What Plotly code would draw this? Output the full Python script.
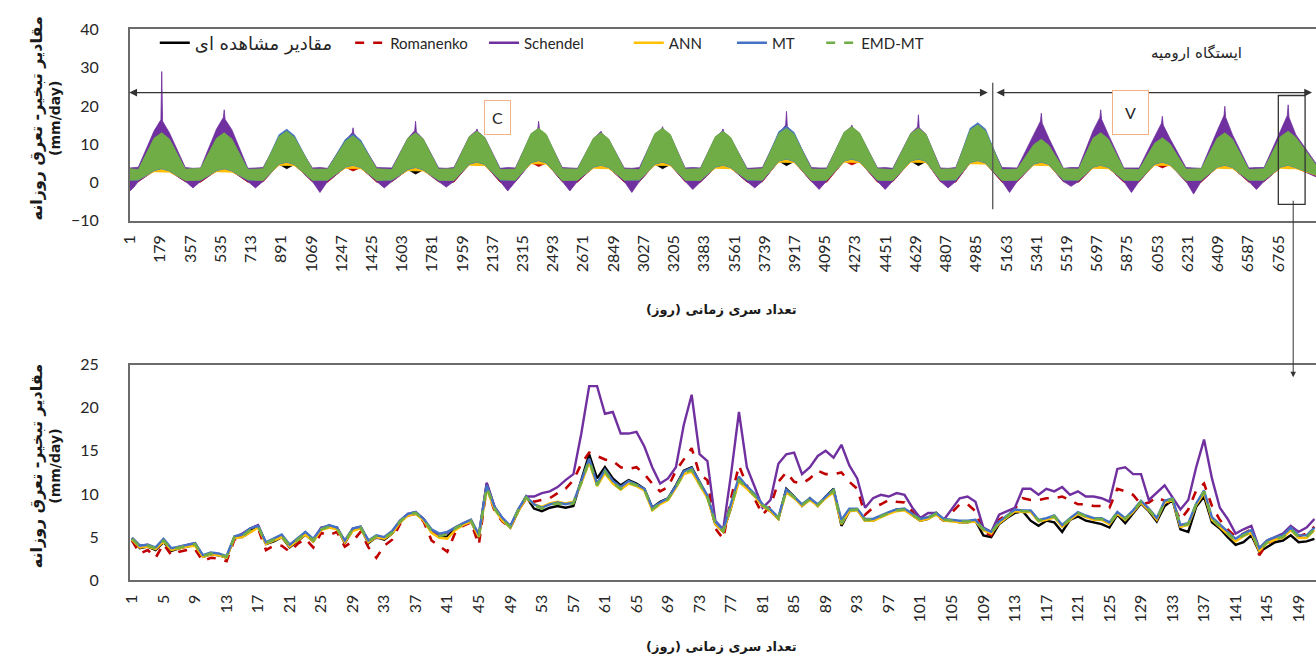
import plotly.graph_objects as go

W, H = 1316, 664

# ---------------- DATA ----------------
SERIES_NAMES = ["مقادیر مشاهده ای", "Romanenko", "Schendel", "ANN", "MT", "EMD-MT"]
SERIES_COLORS = ["#000000", "#C00000", "#7030A0", "#FFC000", "#4472C4", "#70AD47"]
SERIES_DASH = ["solid", "dash", "solid", "solid", "solid", "dash"]

# Top panel: whole record (days). The dense daily series are drawn as the band each one
# fills, read as upper / lower envelope at winter start/end, pre-peak, peak, post-peak.
TOP_DAYS = [
    1, 50, 143, 188, 233,
    327, 417, 511, 556, 601,
    695, 785, 879, 924, 969,
    1075, 1165, 1270, 1315, 1360,
    1454, 1544, 1638, 1683, 1728,
    1819, 1909, 2000, 2045, 2090,
    2181, 2271, 2363, 2408, 2453,
    2547, 2637, 2731, 2776, 2821,
    2912, 3002, 3093, 3138, 3183,
    3271, 3361, 3449, 3494, 3539,
    3636, 3726, 3823, 3868, 3913,
    4015, 4105, 4208, 4253, 4298,
    4404, 4494, 4600, 4645, 4690,
    4775, 4865, 4950, 4995, 5040,
    5137, 5227, 5324, 5369, 5414,
    5499, 5589, 5674, 5719, 5764,
    5855, 5945, 6037, 6082, 6127,
    6221, 6311, 6405, 6450, 6495,
    6591, 6681, 6778, 6823, 6868,
    6987]

# Schendel has short spikes and winter dips, so it is read at more points
SCH_DAYS = [
    1, 25, 50, 143, 183, 188, 193, 233,
    327, 372, 417, 511, 551, 556, 561, 601,
    695, 740, 785, 879, 919, 924, 929, 969,
    1075, 1120, 1165, 1270, 1310, 1315, 1320, 1360,
    1454, 1499, 1544, 1638, 1678, 1683, 1688, 1728,
    1819, 1864, 1909, 2000, 2040, 2045, 2050, 2090,
    2181, 2226, 2271, 2363, 2403, 2408, 2413, 2453,
    2547, 2592, 2637, 2731, 2771, 2776, 2781, 2821,
    2912, 2957, 3002, 3093, 3133, 3138, 3143, 3183,
    3271, 3316, 3361, 3449, 3489, 3494, 3499, 3539,
    3636, 3681, 3726, 3823, 3863, 3868, 3873, 3913,
    4015, 4060, 4105, 4208, 4248, 4253, 4258, 4298,
    4404, 4449, 4494, 4600, 4640, 4645, 4650, 4690,
    4775, 4820, 4865, 4950, 4990, 4995, 5000, 5040,
    5137, 5182, 5227, 5324, 5364, 5369, 5374, 5414,
    5499, 5544, 5589, 5674, 5714, 5719, 5724, 5764,
    5855, 5900, 5945, 6037, 6077, 6082, 6087, 6127,
    6221, 6266, 6311, 6405, 6445, 6450, 6455, 6495,
    6591, 6636, 6681, 6778, 6818, 6823, 6828, 6868,
    6987]

OBS_UP = [
    3.3, 3.2, 11.0, 12.4, 10.8, 3.2, 3.3, 11.0, 12.4, 10.8, 3.3, 3.2, 11.4, 12.8, 11.2,
    3.2, 3.3, 10.2, 11.6, 10.0, 3.3, 3.2, 11.0, 12.4, 10.8, 3.2, 3.3, 11.4, 12.8, 11.2,
    3.3, 3.2, 12.2, 13.6, 12.0, 3.2, 3.3, 11.0, 12.4, 10.8, 3.3, 3.2, 12.2, 13.6, 12.0,
    3.2, 3.3, 11.4, 12.8, 11.2, 3.3, 3.2, 12.2, 13.6, 12.0, 3.2, 3.3, 12.6, 14.0, 12.4,
    3.3, 3.2, 12.2, 13.6, 12.0, 3.2, 3.3, 13.1, 14.5, 12.9, 3.3, 3.2, 9.3, 10.7, 9.1,
    3.2, 3.3, 11.0, 12.4, 10.8, 3.3, 3.2, 9.7, 11.1, 9.5, 3.2, 3.3, 11.0, 12.4, 10.8,
    3.3, 3.2, 11.4, 12.8, 11.2, 4.4]
OBS_LO = [
    0.4, 0.5, 3.1, 2.9, 3.0, 0.5, 0.4, 3.1, 2.9, 3.0, 0.4, 0.5, 4.8, 3.6, 4.7,
    0.5, 0.4, 4.0, 3.8, 3.9, 0.4, 0.5, 3.4, 2.2, 3.3, 0.5, 0.4, 4.8, 4.6, 4.7,
    0.4, 0.5, 5.2, 5.0, 5.1, 0.5, 0.4, 4.0, 3.8, 3.9, 0.4, 0.5, 4.8, 3.6, 4.7,
    0.5, 0.4, 4.0, 3.8, 3.9, 0.4, 0.5, 5.6, 4.4, 5.5, 0.5, 0.4, 5.6, 5.4, 5.5,
    0.4, 0.5, 5.6, 4.4, 5.5, 0.5, 0.4, 5.2, 5.0, 5.1, 0.4, 0.5, 4.8, 4.6, 4.7,
    0.5, 0.4, 4.0, 3.8, 3.9, 0.4, 0.5, 4.8, 4.6, 4.7, 0.5, 0.4, 4.0, 3.8, 3.9,
    0.4, 0.5, 4.0, 3.8, 3.9, 1.8]

ROM_UP = [
    2.9, 2.8, 10.7, 12.1, 10.5, 2.8, 2.9, 10.7, 12.1, 10.5, 2.9, 2.8, 11.1, 12.5, 10.9,
    2.8, 2.9, 9.9, 11.3, 9.7, 2.9, 2.8, 10.7, 12.1, 10.5, 2.8, 2.9, 11.1, 12.5, 10.9,
    2.9, 2.8, 11.9, 13.3, 11.7, 2.8, 2.9, 10.7, 12.1, 10.5, 2.9, 2.8, 11.9, 13.3, 11.7,
    2.8, 2.9, 11.1, 12.5, 10.9, 2.9, 2.8, 11.9, 13.3, 11.7, 2.8, 2.9, 12.3, 13.7, 12.1,
    2.9, 2.8, 11.9, 13.3, 11.7, 2.8, 2.9, 12.8, 14.2, 12.6, 2.9, 2.8, 9.0, 10.4, 8.8,
    2.8, 2.9, 10.7, 12.1, 10.5, 2.9, 2.8, 9.4, 10.8, 9.2, 2.8, 2.9, 10.7, 12.1, 10.5,
    2.9, 2.8, 11.1, 12.5, 10.9, 4.0]
ROM_LO = [
    0.1, 0.2, 3.1, 3.0, 3.0, 0.2, 0.1, 3.1, 3.0, 3.0, 0.1, 0.2, 4.8, 4.7, 4.7,
    0.2, 0.1, 4.0, 3.0, 3.9, 0.1, 0.2, 3.4, 3.3, 3.3, 0.2, 0.1, 4.8, 4.7, 4.7,
    0.1, 0.2, 5.2, 4.2, 5.1, 0.2, 0.1, 4.0, 3.9, 3.9, 0.1, 0.2, 4.8, 4.7, 4.7,
    0.2, 0.1, 4.0, 3.9, 3.9, 0.1, 0.2, 5.6, 5.5, 5.5, 0.2, 0.1, 5.6, 4.6, 5.5,
    0.1, 0.2, 5.6, 5.5, 5.5, 0.2, 0.1, 5.2, 5.1, 5.1, 0.1, 0.2, 4.8, 4.7, 4.7,
    0.2, 0.1, 4.0, 3.9, 3.9, 0.1, 0.2, 4.8, 3.8, 4.7, 0.2, 0.1, 4.0, 3.9, 3.9,
    0.1, 0.2, 4.0, 3.9, 3.9, 1.6]

SCH_UP = [
    3.8, 3.9, 4.0, 13.5, 16.4, 29.0, 16.0, 13.0,
    3.9, 3.7, 3.8, 14.0, 17.0, 19.0, 16.5, 13.8,
    3.7, 3.8, 3.9, 11.6, 13.4, 13.8, 13.2, 11.4,
    3.8, 3.9, 3.7, 11.0, 13.0, 14.3, 12.8, 10.8,
    3.9, 3.8, 3.8, 11.6, 13.5, 16.0, 13.2, 11.4,
    3.8, 3.7, 3.9, 12.0, 13.5, 14.0, 13.3, 11.8,
    3.7, 3.9, 3.8, 12.5, 14.0, 16.0, 13.8, 12.3,
    3.9, 3.8, 3.7, 11.4, 13.0, 13.4, 12.8, 11.2,
    3.8, 3.7, 3.9, 12.6, 14.0, 14.6, 13.8, 12.4,
    3.8, 3.9, 3.8, 11.8, 13.4, 14.0, 13.2, 11.6,
    3.7, 3.8, 3.9, 12.8, 15.0, 18.6, 14.6, 12.6,
    3.9, 3.8, 3.8, 13.0, 14.5, 15.0, 14.3, 12.8,
    3.8, 3.9, 3.7, 12.8, 14.5, 17.7, 14.3, 12.6,
    3.8, 3.7, 3.9, 13.5, 14.8, 15.2, 14.6, 13.3,
    3.9, 3.8, 3.8, 12.5, 16.0, 18.1, 15.5, 11.5,
    3.7, 3.9, 3.9, 13.5, 17.0, 19.0, 16.5, 12.5,
    3.8, 3.8, 3.8, 12.0, 15.5, 17.3, 15.0, 11.5,
    3.9, 3.8, 3.7, 13.5, 17.5, 19.9, 17.0, 12.5,
    3.8, 3.9, 3.9, 13.5, 17.5, 20.3, 17.0, 12.5,
    5.0]
SCH_LO = [
    -2.2, -1.2, 0.3, 3.0, 3.3, 3.4, 3.3, 2.9,
    0.3, -1.4, 0.3, 3.0, 3.3, 3.4, 3.3, 2.9,
    0.3, -1.4, 0.3, 4.7, 5.0, 5.1, 5.0, 4.6,
    0.3, -2.6, 0.3, 3.9, 4.2, 4.3, 4.2, 3.8,
    0.3, -1.4, 0.3, 3.3, 3.6, 3.7, 3.6, 3.2,
    0.3, -1.2, 0.3, 4.7, 5.0, 5.1, 5.0, 4.6,
    0.3, -2.2, 0.3, 5.1, 5.4, 5.5, 5.4, 5.0,
    0.3, -2.2, 0.3, 3.9, 4.2, 4.3, 4.2, 3.8,
    0.3, -2.6, 0.3, 4.7, 5.0, 5.1, 5.0, 4.6,
    0.3, -1.8, 0.3, 3.9, 4.2, 4.3, 4.2, 3.8,
    0.3, -1.4, 0.3, 5.5, 5.8, 5.9, 5.8, 5.4,
    0.3, -1.8, 0.3, 5.5, 5.8, 5.9, 5.8, 5.4,
    0.3, -1.8, 0.3, 5.5, 5.8, 5.9, 5.8, 5.4,
    0.3, -1.4, 0.3, 5.1, 5.4, 5.5, 5.4, 5.0,
    0.3, -2.6, 0.3, 4.7, 5.0, 5.1, 5.0, 4.6,
    0.3, -1.0, 0.3, 3.9, 4.2, 4.3, 4.2, 3.8,
    0.3, -2.6, 0.3, 4.7, 5.0, 5.1, 5.0, 4.6,
    0.3, -3.0, 0.3, 3.9, 4.2, 4.3, 4.2, 3.8,
    0.3, -1.8, 0.3, 3.9, 4.2, 4.3, 4.2, 3.8,
    1.5]

ANN_UP = [
    3.2, 3.1, 10.6, 12.0, 10.4, 3.1, 3.2, 10.6, 12.0, 10.4, 3.2, 3.1, 11.0, 12.4, 10.8,
    3.1, 3.2, 9.8, 11.2, 9.6, 3.2, 3.1, 10.6, 12.0, 10.4, 3.1, 3.2, 11.0, 12.4, 10.8,
    3.2, 3.1, 11.8, 13.2, 11.6, 3.1, 3.2, 10.6, 12.0, 10.4, 3.2, 3.1, 11.8, 13.2, 11.6,
    3.1, 3.2, 11.0, 12.4, 10.8, 3.2, 3.1, 11.8, 13.2, 11.6, 3.1, 3.2, 12.2, 13.6, 12.0,
    3.2, 3.1, 11.8, 13.2, 11.6, 3.1, 3.2, 12.7, 14.1, 12.5, 3.2, 3.1, 8.9, 10.3, 8.7,
    3.1, 3.2, 10.6, 12.0, 10.4, 3.2, 3.1, 9.3, 10.7, 9.1, 3.1, 3.2, 10.6, 12.0, 10.4,
    3.2, 3.1, 11.0, 12.4, 10.8, 4.2]
ANN_LO = [
    0.8, 0.7, 2.8, 2.7, 2.7, 0.7, 0.8, 2.8, 2.7, 2.7, 0.8, 0.7, 4.5, 4.4, 4.4,
    0.7, 0.8, 3.7, 3.6, 3.6, 0.8, 0.7, 3.1, 3.0, 3.0, 0.7, 0.8, 4.5, 4.4, 4.4,
    0.8, 0.7, 4.9, 4.8, 4.8, 0.7, 0.8, 3.7, 3.6, 3.6, 0.8, 0.7, 4.5, 4.4, 4.4,
    0.7, 0.8, 3.7, 3.6, 3.6, 0.8, 0.7, 5.3, 5.2, 5.2, 0.7, 0.8, 5.3, 5.2, 5.2,
    0.8, 0.7, 5.3, 5.2, 5.2, 0.7, 0.8, 4.9, 4.8, 4.8, 0.8, 0.7, 4.5, 4.4, 4.4,
    0.7, 0.8, 3.7, 3.6, 3.6, 0.8, 0.7, 4.5, 4.4, 4.4, 0.7, 0.8, 3.7, 3.6, 3.6,
    0.8, 0.7, 3.7, 3.6, 3.6, 1.9]

MT_UP = [
    3.4, 3.3, 11.3, 12.7, 11.1, 3.3, 3.4, 11.3, 12.7, 11.1, 3.4, 3.3, 12.5, 13.9, 12.3,
    3.3, 3.4, 11.3, 12.7, 11.1, 3.4, 3.3, 11.3, 12.7, 11.1, 3.3, 3.4, 11.7, 13.1, 11.5,
    3.4, 3.3, 12.5, 13.9, 12.3, 3.3, 3.4, 11.3, 12.7, 11.1, 3.4, 3.3, 12.5, 13.9, 12.3,
    3.3, 3.4, 11.7, 13.1, 11.5, 3.4, 3.3, 13.3, 14.7, 13.1, 3.3, 3.4, 12.9, 14.3, 12.7,
    3.4, 3.3, 12.5, 13.9, 12.3, 3.3, 3.4, 14.2, 15.6, 14.0, 3.4, 3.3, 9.6, 11.0, 9.4,
    3.3, 3.4, 11.3, 12.7, 11.1, 3.4, 3.3, 10.0, 11.4, 9.8, 3.3, 3.4, 11.3, 12.7, 11.1,
    3.4, 3.3, 11.7, 13.1, 11.5, 4.4]
MT_LO = [
    0.6, 0.6, 3.1, 3.6, 3.0, 0.6, 0.6, 3.1, 3.6, 3.0, 0.6, 0.6, 4.8, 5.3, 4.7,
    0.6, 0.6, 4.0, 4.5, 3.9, 0.6, 0.6, 3.4, 3.9, 3.3, 0.6, 0.6, 4.8, 5.3, 4.7,
    0.6, 0.6, 5.2, 5.7, 5.1, 0.6, 0.6, 4.0, 4.5, 3.9, 0.6, 0.6, 4.8, 5.3, 4.7,
    0.6, 0.6, 4.0, 4.5, 3.9, 0.6, 0.6, 5.6, 6.1, 5.5, 0.6, 0.6, 5.6, 6.1, 5.5,
    0.6, 0.6, 5.6, 6.1, 5.5, 0.6, 0.6, 5.2, 5.7, 5.1, 0.6, 0.6, 4.8, 5.3, 4.7,
    0.6, 0.6, 4.0, 4.5, 3.9, 0.6, 0.6, 4.8, 5.3, 4.7, 0.6, 0.6, 4.0, 4.5, 3.9,
    0.6, 0.6, 4.0, 4.5, 3.9, 2.1]

EMD_UP = [
    3.6, 3.4, 11.6, 13.0, 11.4, 3.5, 3.7, 11.6, 13.0, 11.4, 3.4, 3.6, 12.0, 13.4, 11.8,
    3.5, 3.5, 10.8, 12.2, 10.6, 3.6, 3.4, 11.6, 13.0, 11.4, 3.5, 3.6, 12.0, 13.4, 11.8,
    3.4, 3.5, 12.8, 14.2, 12.6, 3.6, 3.5, 11.6, 13.0, 11.4, 3.5, 3.4, 12.8, 14.2, 12.6,
    3.5, 3.6, 12.0, 13.4, 11.8, 3.4, 3.6, 12.8, 14.2, 12.6, 3.5, 3.5, 13.2, 14.6, 13.0,
    3.6, 3.4, 12.8, 14.2, 12.6, 3.5, 3.6, 13.7, 15.1, 13.5, 3.4, 3.5, 9.9, 11.3, 9.7,
    3.6, 3.5, 11.6, 13.0, 11.4, 3.5, 3.4, 10.3, 11.7, 10.1, 3.5, 3.6, 11.6, 13.0, 11.4,
    3.4, 3.6, 12.0, 13.4, 11.8, 4.6]
EMD_LO = [
    0.6, 0.7, 3.2, 3.7, 3.1, 0.5, 0.6, 3.2, 3.7, 3.1, 0.7, 0.5, 4.9, 5.4, 4.8,
    0.6, 0.6, 4.1, 4.6, 4.0, 0.5, 0.7, 3.5, 4.0, 3.4, 0.6, 0.5, 4.9, 5.4, 4.8,
    0.7, 0.6, 5.3, 5.8, 5.2, 0.5, 0.6, 4.1, 4.6, 4.0, 0.6, 0.7, 4.9, 5.4, 4.8,
    0.6, 0.5, 4.1, 4.6, 4.0, 0.7, 0.6, 5.7, 6.2, 5.6, 0.5, 0.6, 5.7, 6.2, 5.6,
    0.6, 0.5, 5.7, 6.2, 5.6, 0.6, 0.7, 5.3, 5.8, 5.2, 0.5, 0.6, 4.9, 5.4, 4.8,
    0.7, 0.6, 4.1, 4.6, 4.0, 0.6, 0.5, 4.9, 5.4, 4.8, 0.5, 0.6, 4.1, 4.6, 4.0,
    0.6, 0.6, 4.1, 4.6, 4.0, 2.0]

TOP_TICKS = [1, 179, 357, 535, 713, 891, 1069, 1247, 1425, 1603, 1781, 1959, 2137,
             2315, 2493, 2671, 2849, 3027, 3205, 3383, 3561, 3739, 3917, 4095, 4273,
             4451, 4629, 4807, 4985, 5163, 5341, 5519, 5697, 5875, 6053, 6231, 6409,
             6587, 6765]
TOP_YTICKS = [-10, 0, 10, 20, 30, 40]

# Bottom panel: last 151 days (zoom of the boxed part)
BOT_DAYS = list(range(1, 152))
BOT_TICKS = [1, 5, 9, 13, 17, 21, 25, 29, 33, 37, 41, 45, 49, 53, 57, 61, 65, 69, 73,
             77, 81, 85, 89, 93, 97, 101, 105, 109, 113, 117, 121, 125, 129, 133, 137,
             141, 145, 149]
BOT_YTICKS = [0, 5, 10, 15, 20, 25]

OBS = [4.8, 3.7, 3.9, 3.5, 4.4, 3.4, 3.7, 3.9, 4.1, 2.7, 3.0, 2.9, 2.6,
       5.0, 5.0, 5.8, 6.3, 4.2, 4.5, 5.0, 3.8, 4.5, 5.3, 4.5, 5.9, 6.2,
       6.1, 4.3, 5.8, 6.1, 4.3, 5.0, 4.7, 5.4, 6.7, 7.6, 7.8, 7.1, 5.6,
       5.0, 5.1, 5.9, 6.5, 6.9, 4.9, 11.2, 8.4, 7.1, 6.1, 8.0, 9.7, 8.3,
       8.0, 8.4, 8.6, 8.4, 8.6, 11.6, 14.6, 11.8, 13.1, 11.8, 11.0, 11.6, 11.2,
       10.6, 8.4, 9.1, 9.5, 11.0, 12.7, 13.1, 11.4, 9.7, 6.5, 5.6, 8.4, 11.8,
       10.8, 9.9, 8.6, 8.0, 7.1, 10.6, 9.7, 8.6, 9.5, 8.6, 9.7, 10.6, 6.3,
       8.0, 8.2, 6.9, 6.9, 7.4, 7.8, 8.2, 8.2, 7.6, 6.9, 7.1, 7.8, 6.9,
       6.9, 6.7, 6.7, 6.9, 5.2, 5.0, 6.5, 7.2, 7.8, 8.0, 6.9, 6.3, 6.9,
       6.7, 5.6, 7.0, 7.4, 6.9, 6.7, 6.5, 6.1, 7.6, 6.6, 7.8, 8.9, 8.0,
       6.8, 8.6, 9.3, 5.9, 5.6, 8.5, 9.7, 6.7, 6.0, 5.0, 4.1, 4.4, 5.2,
       3.3, 3.9, 4.4, 4.6, 5.2, 4.4, 4.5, 4.8]
ROM = [4.6, 3.1, 3.5, 2.6, 4.2, 2.9, 3.3, 3.5, 3.6, 2.2, 2.6, 2.5, 2.2,
       4.7, 5.0, 5.6, 6.0, 3.5, 4.0, 4.0, 3.3, 4.2, 4.8, 3.8, 5.5, 5.2,
       5.6, 3.9, 4.5, 5.6, 3.8, 2.6, 4.0, 4.7, 6.5, 7.5, 7.7, 6.8, 4.6,
       3.9, 3.3, 5.5, 6.3, 6.7, 4.1, 10.8, 8.0, 6.8, 6.1, 8.1, 9.4, 9.1,
       9.3, 9.5, 10.1, 10.6, 11.6, 13.5, 14.8, 14.4, 14.0, 13.8, 13.1, 12.9, 13.1,
       12.3, 11.2, 10.3, 10.8, 12.7, 14.0, 15.3, 12.3, 11.6, 6.0, 4.8, 9.5, 13.3,
       11.0, 9.4, 7.6, 8.6, 11.4, 12.5, 11.4, 11.2, 11.8, 12.7, 12.3, 12.3, 12.5,
       11.4, 10.6, 7.6, 8.4, 8.8, 9.3, 9.1, 9.0, 8.0, 6.9, 7.3, 7.5, 6.9,
       7.8, 8.8, 8.8, 8.0, 5.6, 5.2, 7.0, 7.7, 8.3, 9.5, 9.3, 9.3, 9.5,
       9.5, 9.7, 9.3, 8.8, 8.8, 8.6, 8.6, 8.4, 10.6, 10.3, 9.9, 8.8, 9.0,
       9.6, 9.2, 8.9, 7.0, 8.2, 10.4, 11.2, 8.6, 7.0, 5.9, 5.0, 5.4, 5.9,
       2.9, 4.2, 4.8, 5.1, 6.0, 5.1, 5.4, 6.2]
SCH = [4.9, 4.0, 4.1, 3.7, 4.7, 3.6, 3.9, 4.1, 4.3, 2.8, 3.1, 3.0, 2.7,
       5.0, 5.4, 6.0, 6.4, 4.3, 4.8, 5.2, 4.1, 4.8, 5.5, 4.7, 6.1, 6.3,
       6.1, 4.5, 6.0, 6.2, 4.6, 4.9, 4.9, 5.6, 6.9, 7.7, 7.9, 7.1, 5.8,
       5.2, 5.5, 6.1, 6.6, 7.0, 5.2, 11.3, 8.5, 7.2, 6.2, 8.2, 9.7, 9.7,
       10.1, 10.3, 10.8, 11.6, 12.3, 17.0, 22.5, 22.5, 19.3, 19.5, 17.0, 17.0, 17.2,
       15.5, 13.1, 11.2, 11.8, 13.1, 18.0, 21.5, 14.6, 13.8, 6.9, 5.9, 12.3, 19.5,
       13.1, 10.8, 8.4, 9.3, 13.5, 14.6, 14.8, 12.3, 13.1, 14.4, 15.0, 14.2, 15.7,
       13.3, 11.8, 8.4, 9.5, 9.9, 9.7, 10.1, 9.9, 8.4, 7.2, 7.8, 7.8, 7.0,
       8.2, 9.5, 9.7, 9.1, 6.1, 5.6, 7.6, 8.0, 8.4, 10.6, 10.6, 9.9, 10.6,
       10.3, 10.8, 9.9, 10.3, 9.7, 9.7, 9.5, 9.1, 12.9, 13.1, 12.3, 12.3, 9.3,
       10.2, 11.0, 9.6, 8.2, 9.3, 13.1, 16.3, 11.8, 8.4, 7.1, 5.4, 5.9, 6.3,
       3.7, 4.6, 5.0, 5.4, 6.3, 5.6, 6.1, 7.1]
ANN = [4.7, 3.8, 3.9, 3.6, 4.5, 3.5, 3.7, 3.9, 4.0, 2.7, 3.0, 2.9, 2.6,
       4.9, 5.0, 5.6, 6.1, 4.2, 4.6, 5.0, 3.9, 4.6, 5.3, 4.5, 5.8, 6.1,
       5.9, 4.4, 5.7, 6.0, 4.4, 5.0, 4.8, 5.4, 6.7, 7.5, 7.7, 6.9, 5.5,
       4.9, 4.8, 5.8, 6.4, 6.8, 5.0, 10.6, 8.2, 6.9, 6.1, 8.0, 9.5, 8.8,
       8.5, 8.9, 9.1, 8.9, 9.1, 11.2, 13.7, 10.9, 12.4, 11.2, 10.5, 11.2, 10.9,
       10.4, 8.1, 8.8, 9.3, 10.7, 12.3, 12.6, 11.1, 9.5, 6.5, 5.6, 8.4, 11.4,
       10.6, 9.7, 8.6, 8.0, 7.1, 10.2, 9.5, 8.6, 9.3, 8.6, 9.5, 10.2, 6.5,
       8.0, 8.1, 6.9, 6.9, 7.3, 7.7, 8.0, 8.1, 7.5, 6.9, 7.1, 7.6, 6.9,
       6.8, 6.7, 6.7, 6.8, 5.8, 5.4, 6.6, 7.3, 8.0, 7.9, 7.9, 6.8, 7.0,
       7.3, 6.2, 7.0, 7.7, 7.3, 7.0, 7.0, 6.5, 7.7, 7.0, 7.9, 9.0, 8.1,
       7.0, 9.0, 9.3, 6.2, 6.4, 8.7, 10.1, 7.0, 6.2, 5.3, 4.5, 5.1, 5.5,
       3.4, 4.3, 4.7, 4.9, 5.8, 4.9, 4.9, 5.8]
MT = [4.9, 4.0, 4.1, 3.8, 4.8, 3.7, 3.9, 4.1, 4.3, 2.9, 3.2, 3.1, 2.8,
      5.1, 5.3, 6.0, 6.3, 4.4, 4.9, 5.3, 4.1, 4.9, 5.6, 4.8, 6.0, 6.4,
      6.1, 4.6, 6.0, 6.2, 4.6, 5.2, 5.0, 5.7, 6.9, 7.7, 7.9, 7.1, 5.9,
      5.4, 5.6, 6.1, 6.6, 7.0, 5.3, 11.0, 8.5, 7.2, 6.3, 8.2, 9.7, 8.8,
      8.4, 8.8, 9.0, 8.8, 9.0, 11.5, 14.1, 11.2, 12.8, 11.5, 10.8, 11.5, 11.1,
      10.6, 8.4, 9.0, 9.5, 10.9, 12.6, 13.0, 11.4, 9.8, 6.8, 5.8, 8.9, 12.0,
      10.9, 10.0, 8.8, 8.2, 7.3, 10.5, 9.7, 8.8, 9.5, 8.8, 9.7, 10.5, 7.0,
      8.3, 8.3, 7.1, 7.1, 7.5, 7.9, 8.2, 8.3, 7.7, 7.1, 7.3, 7.8, 7.1,
      7.0, 6.9, 6.9, 7.0, 6.0, 5.6, 6.8, 7.5, 8.2, 8.1, 8.1, 7.0, 7.2,
      7.5, 6.4, 7.2, 7.9, 7.5, 7.2, 7.2, 6.7, 7.9, 7.2, 8.1, 9.2, 8.3,
      7.2, 9.2, 9.5, 6.4, 6.6, 8.9, 10.4, 7.3, 6.5, 5.6, 4.8, 5.4, 5.8,
      3.7, 4.6, 5.0, 5.2, 6.1, 5.2, 5.2, 6.1]
EMD = [4.8, 3.9, 4.0, 3.7, 4.6, 3.6, 3.8, 4.0, 4.2, 2.8, 3.1, 3.0, 2.7,
       5.0, 5.1, 5.8, 6.2, 4.3, 4.7, 5.1, 4.0, 4.7, 5.4, 4.6, 5.9, 6.2,
       6.0, 4.5, 5.9, 6.1, 4.5, 5.1, 4.9, 5.5, 6.8, 7.6, 7.8, 7.0, 5.7,
       5.1, 5.3, 6.0, 6.5, 6.9, 5.1, 10.8, 8.3, 7.0, 6.2, 8.1, 9.6, 8.7,
       8.3, 8.7, 8.9, 8.7, 8.9, 11.3, 13.9, 11.0, 12.6, 11.3, 10.6, 11.3, 11.0,
       10.5, 8.2, 8.9, 9.4, 10.8, 12.4, 12.8, 11.2, 9.6, 6.6, 5.7, 8.6, 11.6,
       10.7, 9.8, 8.7, 8.1, 7.2, 10.4, 9.6, 8.7, 9.4, 8.7, 9.6, 10.4, 6.6,
       8.1, 8.2, 7.0, 7.0, 7.4, 7.8, 8.1, 8.2, 7.6, 7.0, 7.2, 7.7, 7.0,
       6.9, 6.8, 6.8, 6.9, 5.9, 5.5, 6.7, 7.4, 8.1, 8.0, 8.0, 6.9, 7.1,
       7.4, 6.3, 7.1, 7.8, 7.4, 7.1, 7.1, 6.6, 7.8, 7.1, 8.0, 9.1, 8.2,
       7.1, 9.1, 9.4, 6.3, 6.5, 8.8, 10.3, 7.1, 6.3, 5.4, 4.6, 5.2, 5.6,
       3.5, 4.4, 4.8, 5.0, 5.9, 5.0, 5.0, 5.9]

TOP_BANDS = [(TOP_DAYS, OBS_UP, OBS_LO), (TOP_DAYS, ROM_UP, ROM_LO),
             (SCH_DAYS, SCH_UP, SCH_LO), (TOP_DAYS, ANN_UP, ANN_LO),
             (TOP_DAYS, MT_UP, MT_LO), (TOP_DAYS, EMD_UP, EMD_LO)]
BOT_SERIES = [OBS, ROM, SCH, ANN, MT, EMD]

Y_TITLE = ("<b><span style='font-size:16px'>مقادیر تبخیر- تعرق روزانه</span></b><br>"
           "<b>(mm/day)</b>")
X_TITLE = "<b>تعداد سری زمانی (روز)</b>"
STATION = "ایستگاه ارومیه"

# ---------------- FIGURE ----------------
def px(x):
    return x / W

def py(y):
    return 1 - y / H

fig = go.Figure()

for name, color, (days, up, lo) in zip(SERIES_NAMES, SERIES_COLORS, TOP_BANDS):
    fig.add_trace(go.Scatter(
        x=days + days[::-1], y=up + lo[::-1],
        mode="lines", fill="toself", fillcolor=color,
        line=dict(color=color, width=0.8),
        name=name, showlegend=False, hoverinfo="skip",
        xaxis="x", yaxis="y"))

LEGEND_IDS = ["legend", "legend2", "legend3", "legend4", "legend5", "legend6"]
for name, color, dash, vals, lid in zip(SERIES_NAMES, SERIES_COLORS, SERIES_DASH,
                                        BOT_SERIES, LEGEND_IDS):
    fig.add_trace(go.Scatter(
        x=BOT_DAYS, y=vals, mode="lines", name=name, legend=lid,
        line=dict(color=color, width=2.6 if dash == "dash" else 2.4, dash=dash),
        xaxis="x2", yaxis="y2"))

AX_LINE = "#6b6b6b"
TICK_FONT = dict(family="Lato, Open Sans, sans-serif", size=16, color="#262626")
LEG_FONT = dict(family="Lato, DejaVu Sans, sans-serif", size=15, color="#262626")

legend_x = [145, 342, 477, 623, 727, 817]
legends = {}
for i, (lid, lx) in enumerate(zip(LEGEND_IDS, legend_x)):
    font = dict(LEG_FONT)
    if i == 0:
        font = dict(family="DejaVu Sans, sans-serif", size=18, color="#262626")
    legends[lid] = dict(orientation="h", x=px(lx), y=py(34), xanchor="left",
                        yanchor="middle", bgcolor="rgba(0,0,0,0)", font=font,
                        itemwidth=30)

fig.update_layout(
    width=W, height=H,
    margin=dict(l=0, r=0, t=0, b=0),
    paper_bgcolor="white", plot_bgcolor="white",
    showlegend=True,
    xaxis=dict(domain=[px(120), 1.0], range=[1, 6987], anchor="y",
               tickmode="array", tickvals=TOP_TICKS, ticktext=[str(t) for t in TOP_TICKS],
               tickangle=-90, tickfont=TICK_FONT, showgrid=False, zeroline=False,
               showline=True, linecolor=AX_LINE, linewidth=2, mirror=True, ticks="",
               ticklabelstandoff=6),
    yaxis=dict(domain=[py(217), py(20)], range=[-10, 40], anchor="x",
               tickmode="array", tickvals=TOP_YTICKS, tickfont=TICK_FONT,
               showgrid=False, zeroline=False, showline=True, linecolor=AX_LINE,
               linewidth=2, mirror=False, ticks="", ticklabelstandoff=26),
    xaxis2=dict(domain=[px(120), 1.0], range=[0.75, 151.2], anchor="y2",
                tickmode="array", tickvals=BOT_TICKS, ticktext=[str(t) for t in BOT_TICKS],
                tickangle=-90, tickfont=TICK_FONT, showgrid=False, zeroline=False,
                showline=True, linecolor=AX_LINE, linewidth=2, mirror=True, ticks="",
                ticklabelstandoff=6),
    yaxis2=dict(domain=[py(587), py(365)], range=[0, 25], anchor="x2",
                tickmode="array", tickvals=BOT_YTICKS, tickfont=TICK_FONT,
                showgrid=False, zeroline=False, showline=True, linecolor=AX_LINE,
                linewidth=2, mirror=False, ticks="", ticklabelstandoff=26),
    **legends,
)

TITLE_FONT = dict(family="DejaVu Sans, Noto Sans, sans-serif", size=14, color="#1a1a1a")
XT_FONT = dict(family="DejaVu Sans, Noto Sans, sans-serif", size=13, color="#1a1a1a")
C = dict(xref="paper", yref="paper", xanchor="center", yanchor="middle")
ann = []
# axis titles
ann.append(dict(x=px(34), y=py(112), text=Y_TITLE, textangle=-90, showarrow=False,
                font=TITLE_FONT, align="center", **C))
ann.append(dict(x=px(34), y=py(470), text=Y_TITLE, textangle=-90, showarrow=False,
                font=TITLE_FONT, align="center", **C))
ann.append(dict(x=px(716), y=py(308), text=X_TITLE, showarrow=False, font=XT_FONT, **C))
ann.append(dict(x=px(716), y=py(655), text=X_TITLE, showarrow=False, font=XT_FONT, **C))
# station name
ann.append(dict(x=px(1195), y=py(44), text=STATION, showarrow=False,
                font=dict(family="DejaVu Sans, sans-serif", size=15, color="#262626"), **C))
# calibration / validation arrows
ann.append(dict(x=px(985), y=py(85), text="", showarrow=True, ax=-860, ay=0,
                axref="pixel", ayref="pixel", arrowhead=2, startarrowhead=2,
                arrowside="end+start", arrowsize=1.2, arrowwidth=1.3,
                arrowcolor="#333333", **C))
ann.append(dict(x=px(1312), y=py(85), text="", showarrow=True, ax=-317, ay=0,
                axref="pixel", ayref="pixel", arrowhead=2, startarrowhead=2,
                arrowside="end+start", arrowsize=1.2, arrowwidth=1.3,
                arrowcolor="#333333", **C))
# C / V labels
ann.append(dict(x=px(491), y=py(111), text="C", showarrow=False, bordercolor="#F4B183",
                borderwidth=1, borderpad=7, bgcolor="white",
                font=dict(family="Lato, sans-serif", size=16, color="#262626"), **C))
ann.append(dict(x=px(1129), y=py(106), text="V", showarrow=False, bordercolor="#F4B183",
                borderwidth=1, borderpad=12, bgcolor="white",
                font=dict(family="Lato, sans-serif", size=16, color="#262626"), **C))
# zoom pointer arrow
ann.append(dict(x=px(1293), y=py(378), text="", showarrow=True, ax=0, ay=-178,
                axref="pixel", ayref="pixel", arrowhead=2, arrowsize=1.1, arrowwidth=1,
                arrowcolor="#333333", **C))
fig.update_layout(annotations=ann)

fig.update_layout(shapes=[
    dict(type="line", xref="paper", yref="paper", x0=px(990), x1=px(990), y0=py(75), y1=py(205),
         line=dict(color="#555555", width=1.3)),
    dict(type="rect", xref="paper", yref="paper", x0=px(1278), x1=px(1305), y0=py(200), y1=py(88),
         line=dict(color="#333333", width=1.3)),
])

fig.write_html("out.html")
